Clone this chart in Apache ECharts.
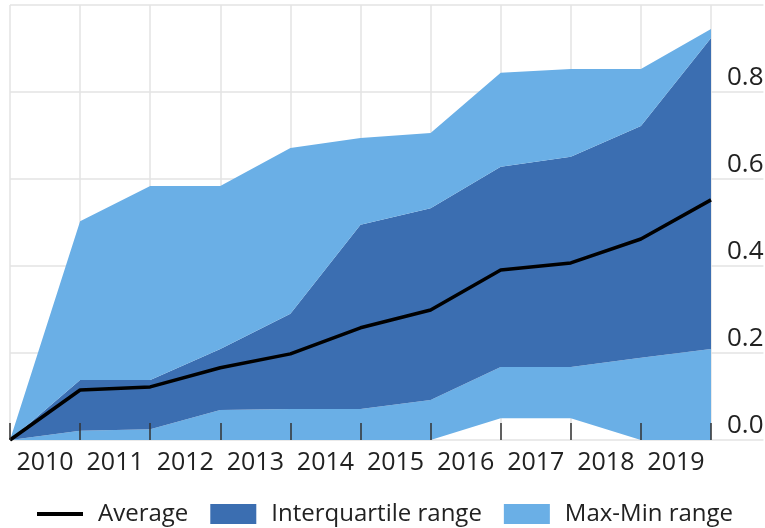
<!DOCTYPE html>
<html>
<head>
<meta charset="utf-8">
<script src="https://cdn.jsdelivr.net/npm/echarts@6/dist/echarts.min.js"></script>
<style>
html,body{margin:0;padding:0;background:#fff;}
#chart{width:765px;height:528px;}
</style>
</head>
<body>
<div id="chart"></div>
<script>
const years = ['2010','2011','2012','2013','2014','2015','2016','2017','2018','2019'];
const maxVals = [0, 0.503, 0.584, 0.584, 0.671, 0.694, 0.706, 0.844, 0.853, 0.853, 0.945];
const q3Vals  = [0, 0.138, 0.138, 0.209, 0.290, 0.495, 0.533, 0.628, 0.651, 0.722, 0.924];
const q1Vals  = [0, 0.021, 0.025, 0.069, 0.071, 0.071, 0.092, 0.168, 0.168, 0.189, 0.209];
const minVals = [0, 0, 0, 0, 0, 0, 0, 0.050, 0.050, 0, 0];
const avgVals = [0, 0.115, 0.122, 0.166, 0.198, 0.258, 0.299, 0.391, 0.407, 0.462, 0.552];

const LIGHT = '#6aafe6';
const DARK = '#3b6eb1';
const GRIDC = '#e3e3e3';
const FONT = 'Open Sans';

const pointIdx = maxVals.map((_, i) => String(i));
const diff = (a, b) => a.map((v, i) => +(v - b[i]).toFixed(4));

const chart = echarts.init(document.getElementById('chart'));
chart.setOption({
  animation: false,
  textStyle: { fontFamily: FONT },
  grid: [
    { left: 10, right: 54, top: 5, bottom: 88 },
    { left: 711, right: 0, top: 5, bottom: 88 }
  ],
  xAxis: [
    { type: 'category', gridIndex: 0, data: pointIdx, boundaryGap: false,
      axisLine: { show: false }, axisTick: { show: false }, axisLabel: { show: false },
      splitLine: { show: true, interval: 0, lineStyle: { color: GRIDC, width: 1.5 } } },
    { type: 'category', gridIndex: 0, data: years, boundaryGap: true, position: 'bottom',
      axisLine: { show: false }, axisTick: { show: false }, splitLine: { show: false },
      axisLabel: { interval: 0, fontSize: 25, color: '#222', margin: 10, fontFamily: FONT } },
    { type: 'category', gridIndex: 0, data: pointIdx, boundaryGap: false, z: 20, position: 'bottom',
      axisLine: { show: false }, axisLabel: { show: false }, splitLine: { show: false },
      axisTick: { show: true, interval: 0, inside: true, length: 17, lineStyle: { color: '#333', width: 1.5 } } },
    { type: 'value', gridIndex: 1, min: 0, max: 1, show: false }
  ],
  yAxis: [
    { type: 'value', gridIndex: 0, min: 0, max: 1, interval: 0.2,
      axisLine: { show: false }, axisTick: { show: false }, axisLabel: { show: false },
      splitLine: { show: true, lineStyle: { color: GRIDC, width: 1.5 } } },
    { type: 'value', gridIndex: 1, min: 0, max: 1, interval: 0.2, position: 'left',
      axisLine: { show: false }, axisTick: { show: false },
      splitLine: { show: true, lineStyle: { color: GRIDC, width: 1.5 } },
      axisLabel: { inside: true, margin: 16, fontSize: 26, color: '#222', verticalAlign: 'bottom',
        lineHeight: 28, fontFamily: FONT,
        formatter: v => (v >= 0.999 ? '' : v.toFixed(1)) } }
  ],
  legend: {
    left: 37, top: 502, padding: 0, itemGap: 22, itemWidth: 46, itemHeight: 20,
    textStyle: { fontSize: 24, color: '#222', fontFamily: FONT, padding: [0, 0, 0, 10] },
    data: [
      { name: 'Average', icon: 'path://M0,0 L46,0 L46,4 L0,4 Z', itemStyle: { color: '#000' } },
      { name: 'Interquartile range', icon: 'rect', itemStyle: { color: DARK } },
      { name: 'Max-Min range', icon: 'rect', itemStyle: { color: LIGHT } }
    ]
  },
  series: [
    { name: 'base', type: 'line', stack: 'band', data: minVals, symbol: 'none',
      lineStyle: { width: 0, opacity: 0 }, silent: true },
    { name: 'Max-Min range', type: 'line', stack: 'band', data: diff(q1Vals, minVals), symbol: 'none',
      color: LIGHT, lineStyle: { width: 0 }, areaStyle: { color: LIGHT, opacity: 1 } },
    { name: 'Interquartile range', type: 'line', stack: 'band', data: diff(q3Vals, q1Vals), symbol: 'none',
      color: DARK, lineStyle: { width: 0 }, areaStyle: { color: DARK, opacity: 1 } },
    { name: 'Max-Min range', type: 'line', stack: 'band', data: diff(maxVals, q3Vals), symbol: 'none',
      color: LIGHT, lineStyle: { width: 0 }, areaStyle: { color: LIGHT, opacity: 1 } },
    { name: 'Average', type: 'line', data: avgVals, symbol: 'none', z: 5,
      color: '#000', lineStyle: { color: '#000', width: 3.5 } }
  ]
});
</script>
</body>
</html>
